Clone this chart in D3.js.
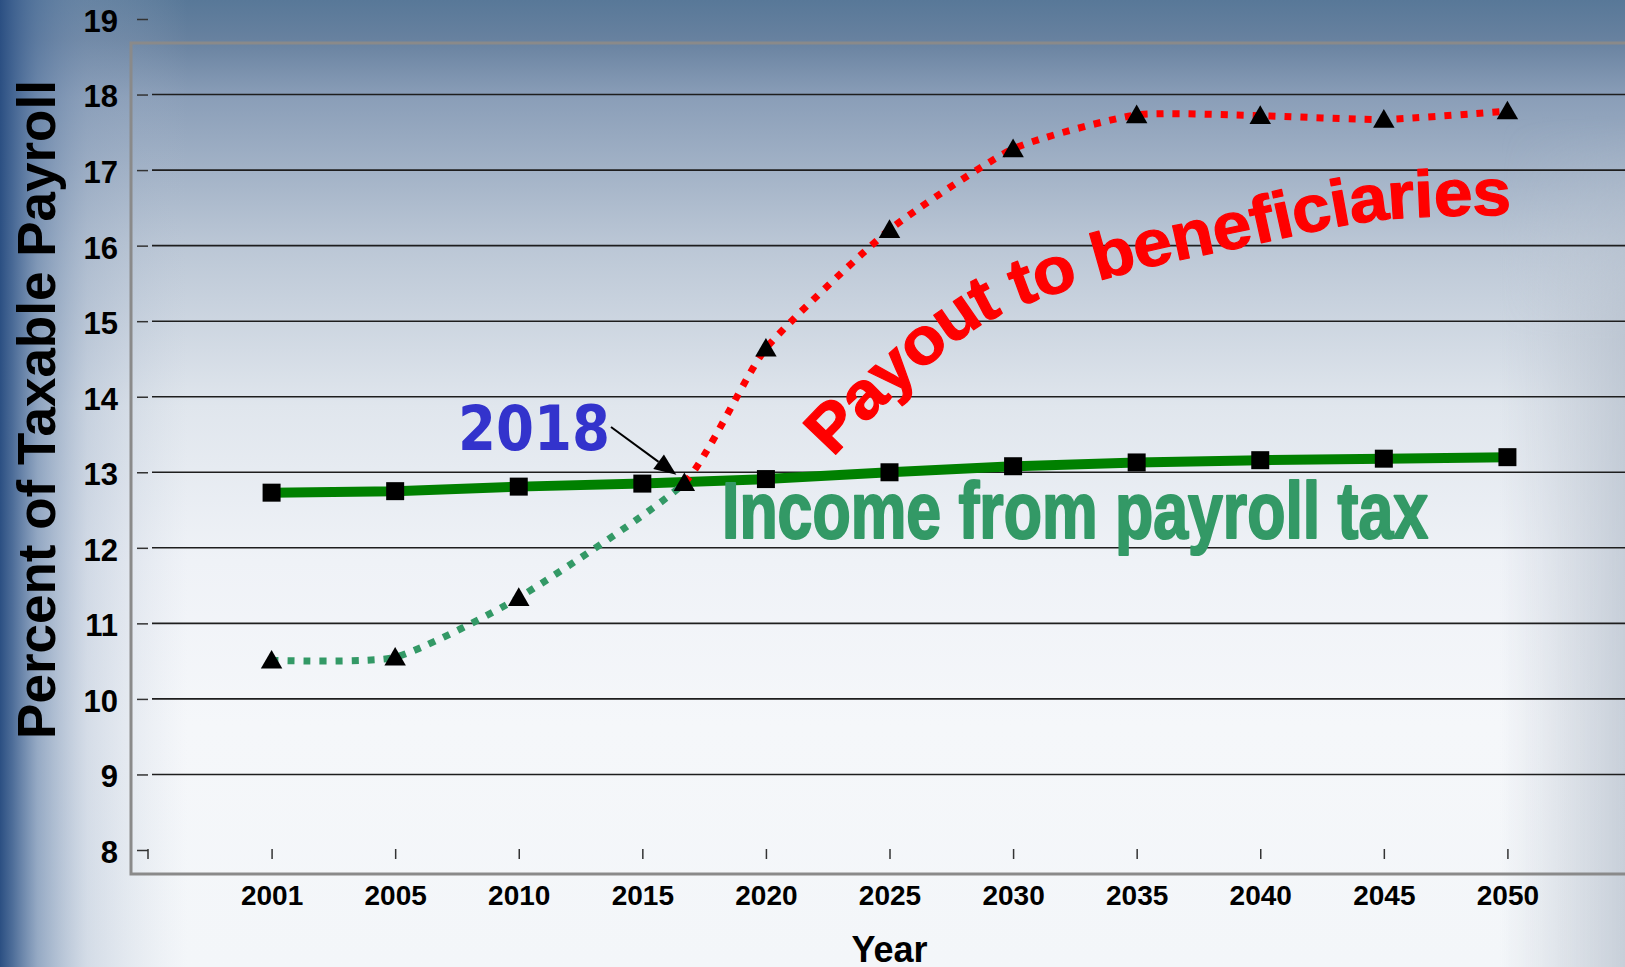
<!DOCTYPE html>
<html>
<head>
<meta charset="utf-8">
<script src="https://cdn.jsdelivr.net/npm/d3@7"></script>
<style>
  html, body { margin: 0; padding: 0; overflow: hidden; background: #f3f6fa; }
  svg { display: block; }
</style>
</head>
<body>
<svg id="chart" width="1625" height="967"></svg>
<script>
// Category years along the x axis
const years = [2001, 2005, 2010, 2015, 2020, 2025, 2030, 2035, 2040, 2045, 2050];
// Income from payroll tax, percent of taxable payroll
const incomeValues = [12.73, 12.75, 12.81, 12.85, 12.91, 13.00, 13.08, 13.13, 13.16, 13.18, 13.20];
// Payout to beneficiaries, percent of taxable payroll
const payoutYears  = [2001, 2005, 2010, 2016.7, 2020, 2025, 2030, 2035, 2040, 2045, 2050];
const payoutValues = [10.51, 10.55, 11.34, 12.86, 14.64, 16.21, 17.28, 17.73, 17.72, 17.67, 17.78];
// Year where payout overtakes income
const crossoverYear = 2016.7;
const crossoverLabel = "2018";
// Axis ticks
const yTicks = [8, 9, 10, 11, 12, 13, 14, 15, 16, 17, 18, 19];
const gridValues = [9, 10, 11, 12, 13, 14, 15, 16, 17, 18];

const W = 1625, H = 967;
const svg = d3.select("#chart");
const defs = svg.append("defs");

// ---- background ----
const gV = defs.append("linearGradient").attr("id", "bgV")
  .attr("x1", 0).attr("y1", 0).attr("x2", 0).attr("y2", 1);
[[0, "#587898"], [0.04, "#67819f"], [0.1, "#8a9eb8"], [0.25, "#bac6d5"],
 [0.42, "#e0e6ed"], [0.58, "#eff2f7"], [0.75, "#f5f7fa"], [1, "#f3f6f9"]]
  .forEach(([o, c]) => gV.append("stop").attr("offset", o).attr("stop-color", c));

const gL = defs.append("linearGradient").attr("id", "bgL")
  .attr("x1", 0).attr("y1", 0).attr("x2", 1).attr("y2", 0);
[[0, "#2b4f82", 1], [0.05, "#3b5e8e", 0.9], [0.15, "#5676a0", 0.6],
 [0.35, "#8a9fbc", 0.3], [0.75, "#b3c0d2", 0]]
  .forEach(([o, c, a]) => gL.append("stop").attr("offset", o)
    .attr("stop-color", c).attr("stop-opacity", a));

const gR = defs.append("linearGradient").attr("id", "bgR")
  .attr("x1", 0).attr("y1", 0).attr("x2", 1).attr("y2", 0);
[[0, "#c2cad6", 0], [0.6, "#bac3cf", 0.45], [1, "#b4becb", 0.7]]
  .forEach(([o, c, a]) => gR.append("stop").attr("offset", o)
    .attr("stop-color", c).attr("stop-opacity", a));

// right edge shading fades out toward the top band
const gRM = defs.append("linearGradient").attr("id", "bgRMask")
  .attr("x1", 0).attr("y1", 0).attr("x2", 0).attr("y2", 1);
[[0, "#000"], [0.12, "#000"], [0.35, "#fff"], [1, "#fff"]]
  .forEach(([o, c]) => gRM.append("stop").attr("offset", o).attr("stop-color", c));
defs.append("mask").attr("id", "rightMask")
  .attr("maskUnits", "userSpaceOnUse").attr("x", 0).attr("y", 0).attr("width", W).attr("height", H)
  .append("rect").attr("x", 1500).attr("y", 0).attr("width", 125).attr("height", H)
  .attr("fill", "url(#bgRMask)");

svg.append("rect").attr("width", W).attr("height", H).attr("fill", "url(#bgV)");
svg.append("rect").attr("width", 250).attr("height", H).attr("fill", "url(#bgL)");
svg.append("rect").attr("x", 1500).attr("width", 125).attr("height", H)
  .attr("fill", "url(#bgR)").attr("mask", "url(#rightMask)");

// ---- scales ----
const plotLeft = 148, plotRight = 1631;
const xPoint = d3.scalePoint().domain(years).range([plotLeft, plotRight]).padding(1);
// continuous year -> position, following the evenly spaced categories
const xYear = d3.scaleLinear().domain(years).range(years.map(d => xPoint(d)));
const y = d3.scaleLinear().domain([8, 19]).range([850, 19]);

// ---- frame ----
svg.append("path").attr("d", `M${W},43 H131 V874 H${W}`)
  .attr("fill", "none").attr("stroke", "#8a8a8a").attr("stroke-width", 3);

// ---- gridlines ----
svg.append("g").selectAll("line").data(gridValues).join("line")
  .attr("x1", 152).attr("x2", W)
  .attr("y1", d => y(d)).attr("y2", d => y(d))
  .attr("stroke", "#1e1e1e").attr("stroke-width", 1.6);

// ---- y axis ----
const yAxis = svg.append("g").attr("transform", `translate(${plotLeft},0)`)
  .call(d3.axisLeft(y).tickValues(yTicks).tickSize(11).tickPadding(19));
yAxis.select(".domain").remove();
yAxis.selectAll(".tick line").attr("stroke", "#333").attr("stroke-width", 1.5);
yAxis.selectAll(".tick text")
  .attr("font-family", "Liberation Sans, Arial, sans-serif")
  .attr("font-weight", "bold").attr("font-size", 31).attr("fill", "#000")
  .attr("dy", "0.4em");

// ---- x axis ----
const xAxis = svg.append("g").attr("transform", `translate(0,${y(8) - 1})`)
  .call(d3.axisBottom(xPoint).tickSize(10).tickPadding(26));
xAxis.select(".domain").remove();
xAxis.selectAll(".tick line").attr("stroke", "#333").attr("stroke-width", 1.5);
xAxis.selectAll(".tick text")
  .attr("font-family", "Liberation Sans, Arial, sans-serif")
  .attr("font-weight", "bold").attr("font-size", 28).attr("fill", "#000");
// axis origin corner
svg.append("line").attr("x1", plotLeft).attr("x2", plotLeft)
  .attr("y1", y(8) - 1).attr("y2", y(8) + 9)
  .attr("stroke", "#333").attr("stroke-width", 1.5);

// ---- axis titles ----
svg.append("text")
  .attr("transform", `translate(55,${(y(8) + y(19)) / 2 - 25}) rotate(-90)`)
  .attr("text-anchor", "middle")
  .attr("font-family", "Liberation Sans, Arial, sans-serif")
  .attr("font-weight", "bold").attr("font-size", 53).attr("fill", "#000")
  .text("Percent of Taxable Payroll");

svg.append("text")
  .attr("x", xPoint(2025)).attr("y", 962)
  .attr("text-anchor", "middle")
  .attr("font-family", "Liberation Sans, Arial, sans-serif")
  .attr("font-weight", "bold").attr("font-size", 36).attr("fill", "#000")
  .text("Year");

// ---- payout series (dotted, green before the crossover, red after) ----
const payout = payoutYears.map((yr, i) => ({ yr, v: payoutValues[i] }));
const payoutLine = d3.line().x(d => xYear(d.yr)).y(d => y(d.v)).curve(d3.curveCardinal.tension(0.45));
const cx = xYear(crossoverYear);
defs.append("clipPath").attr("id", "clipBefore")
  .append("rect").attr("x", 0).attr("y", 0).attr("width", cx).attr("height", H);
defs.append("clipPath").attr("id", "clipAfter")
  .append("rect").attr("x", cx).attr("y", 0).attr("width", W - cx).attr("height", H);

// ---- income series ----
const income = years.map((yr, i) => ({ yr, v: incomeValues[i] }));
svg.append("path").datum(income)
  .attr("fill", "none").attr("stroke", "#008000").attr("stroke-width", 10)
  .attr("d", d3.line().x(d => xPoint(d.yr)).y(d => y(d.v)));

svg.append("path").datum(payout)
  .attr("clip-path", "url(#clipBefore)")
  .attr("fill", "none").attr("stroke", "#339966").attr("stroke-width", 7)
  .attr("stroke-dasharray", "7 9").attr("d", payoutLine);
svg.append("path").datum(payout)
  .attr("clip-path", "url(#clipAfter)")
  .attr("fill", "none").attr("stroke", "#ff0000").attr("stroke-width", 7)
  .attr("stroke-dasharray", "7 9").attr("d", payoutLine);

svg.append("g").selectAll("path").data(income).join("path")
  .attr("transform", d => `translate(${xPoint(d.yr)},${y(d.v)})`)
  .attr("d", d3.symbol(d3.symbolSquare, 324))
  .attr("fill", "#000");

svg.append("g").selectAll("path").data(payout).join("path")
  .attr("transform", d => `translate(${xYear(d.yr)},${y(d.v) + 2})`)
  .attr("d", d3.symbol(d3.symbolTriangle, 200))
  .attr("fill", "#000");

// ---- crossover annotation ----
const tipX = cx - 8, tipY = y(payoutValues[3]) - 8;
const startX = 611, startY = 427;
const ang = Math.atan2(tipY - startY, tipX - startX);
const headLen = 22, headHalf = 9;
const baseX = tipX - headLen * Math.cos(ang), baseY = tipY - headLen * Math.sin(ang);
svg.append("line").attr("x1", startX).attr("y1", startY).attr("x2", baseX).attr("y2", baseY)
  .attr("stroke", "#000").attr("stroke-width", 2);
svg.append("path")
  .attr("d", `M${tipX},${tipY} L${baseX - headHalf * Math.sin(ang)},${baseY + headHalf * Math.cos(ang)} L${baseX + headHalf * Math.sin(ang)},${baseY - headHalf * Math.cos(ang)} Z`)
  .attr("fill", "#000");
svg.append("text")
  .attr("x", 458).attr("y", 450)
  .attr("font-family", "DejaVu Sans, Verdana, sans-serif")
  .attr("font-weight", "bold").attr("font-size", 63).attr("fill", "#3333cc")
  .attr("textLength", 152).attr("lengthAdjust", "spacingAndGlyphs")
  .text(crossoverLabel);

// ---- series labels ----
svg.append("text")
  .attr("x", 722).attr("y", 538)
  .attr("font-family", "Liberation Sans, Arial, sans-serif")
  .attr("font-weight", "bold").attr("font-size", 80).attr("fill", "#339966")
  .attr("stroke", "#339966").attr("stroke-width", 2.2).attr("stroke-linejoin", "round")
  .attr("textLength", 706).attr("lengthAdjust", "spacingAndGlyphs")
  .text("Income from payroll tax");

const labelCurve = [[816, 442], [888, 370], [979, 300], [1109, 254], [1244, 223], [1378, 197], [1511, 192]];
const labelPath = defs.append("path").attr("id", "payoutLabelPath")
  .attr("d", d3.line().curve(d3.curveCatmullRom.alpha(0.5))(labelCurve));
const pathLen = labelPath.node().getTotalLength();
svg.append("text")
  .attr("font-family", "Liberation Sans, Arial, sans-serif")
  .attr("font-weight", "bold").attr("font-size", 66).attr("fill", "#ff0000")
  .attr("stroke", "#ff0000").attr("stroke-width", 1.2).attr("stroke-linejoin", "round")
  .attr("dominant-baseline", "central")
  .append("textPath").attr("href", "#payoutLabelPath")
  .attr("textLength", pathLen).attr("lengthAdjust", "spacingAndGlyphs")
  .text("Payout to beneficiaries");
</script>
</body>
</html>
